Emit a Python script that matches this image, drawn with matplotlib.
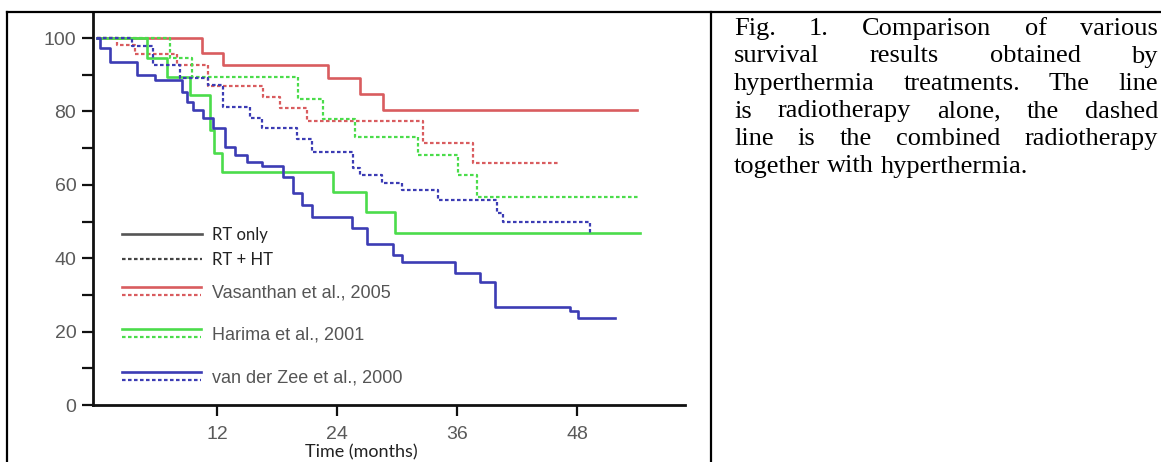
import matplotlib
matplotlib.use("Agg")
import matplotlib.pyplot as plt
from matplotlib.lines import Line2D
from matplotlib.legend_handler import HandlerBase

# ---------------- data ----------------
months_ticks = [12, 24, 36, 48]
survival_ticks = [0, 20, 40, 60, 80, 100]
survival_minor = [10, 30, 50, 70, 90]

vas_rt_t = [0, 10.5, 12.6, 23.1, 26.3, 28.6]
vas_rt_s = [100, 95.9, 92.6, 89.0, 84.7, 80.4]
vas_rt_end = 54.0

vas_ht_t = [0, 2.0, 3.8, 8.0, 11.1, 16.6, 18.3, 21.0, 32.6, 37.6]
vas_ht_s = [100, 98.2, 95.6, 92.6, 87.0, 84.0, 81.0, 77.4, 71.4, 66.0]
vas_ht_end = 46.2

har_rt_t = [0, 5.0, 7.0, 9.3, 11.3, 11.7, 12.5, 23.6, 26.9, 29.8]
har_rt_s = [100, 94.5, 89.4, 84.5, 75.0, 68.7, 63.5, 58.0, 52.6, 47.0]
har_rt_end = 54.3

har_ht_t = [0, 7.3, 9.5, 20.1, 22.6, 25.8, 32.1, 36.1, 38.0]
har_ht_s = [100, 94.5, 89.4, 83.4, 78.0, 73.0, 68.0, 62.7, 56.7]
har_ht_end = 54.1

zee_rt_t = [0, 0.3, 1.3, 4.0, 5.8, 8.5, 9.0, 9.6, 10.6, 11.6, 12.8, 13.8, 15.0, 16.5,
            18.6, 19.6, 20.5, 21.5, 25.5, 27.0, 29.6, 30.5, 35.8, 38.3, 39.8, 47.3, 48.1]
zee_rt_s = [100, 97.3, 93.5, 90.0, 88.5, 85.3, 82.6, 80.5, 78.2, 75.5, 70.3, 68.0, 66.2, 65.0,
            62.0, 57.7, 54.5, 51.2, 48.2, 43.9, 40.9, 39.0, 36.0, 33.5, 26.7, 25.6, 23.7]
zee_rt_end = 51.8

zee_ht_t = [0, 3.5, 5.6, 8.3, 11.1, 12.6, 15.3, 16.5, 20.0, 21.5, 25.6, 26.3, 28.5, 30.5,
            34.1, 40.0, 40.6, 49.3]
zee_ht_s = [100, 97.8, 92.6, 89.0, 87.2, 81.2, 78.2, 75.5, 72.5, 69.0, 64.5, 62.7, 60.5, 58.6,
            55.9, 52.3, 49.9, 47.0]
zee_ht_end = 49.5

study_labels = ["Vasanthan et al., 2005", "Harima et al., 2001", "van der Zee et al., 2000"]
type_labels = ["RT only", "RT + HT"]
x_label = "Time (months)"

caption_lines = [
    "Fig. 1. Comparison of various",
    "survival results obtained by",
    "hyperthermia treatments. The line",
    "is radiotherapy alone, the dashed",
    "line is the combined radiotherapy",
    "together with hyperthermia.",
]

# ---------------- styling ----------------
RED = "#d95c5f"
GREEN = "#4bdc4b"
BLUE = "#3c3cb4"
DASH = (1.6, 1.1)

plt.rcParams["font.family"] = ["Liberation Sans", "DejaVu Sans"]

W, H = 1161, 462
fig = plt.figure(figsize=(W / 100, H / 100), dpi=100)
fig.patch.set_facecolor("white")

ax = fig.add_axes([93 / W, 1 - 405 / H, 592 / W, 393 / H])
ax.set_xlim(-0.4, 58.8)
ax.set_ylim(0, 107.1)


def km(t, s, end, color, dashed):
    xs = list(t) + [end]
    ys = list(s) + [s[-1]]
    if dashed:
        ln, = ax.step(xs, ys, where="post", color=color, lw=1.6, dashes=DASH)
    else:
        ln, = ax.step(xs, ys, where="post", color=color, lw=1.9)
    return ln


l_vr = km(vas_rt_t, vas_rt_s, vas_rt_end, RED, False)
l_vh = km(vas_ht_t, vas_ht_s, vas_ht_end, RED, True)
l_hr = km(har_rt_t, har_rt_s, har_rt_end, GREEN, False)
l_hh = km(har_ht_t, har_ht_s, har_ht_end, GREEN, True)
l_zr = km(zee_rt_t, zee_rt_s, zee_rt_end, BLUE, False)
l_zh = km(zee_ht_t, zee_ht_s, zee_ht_end, BLUE, True)

for sp in ["top", "right"]:
    ax.spines[sp].set_visible(False)
for sp in ["left", "bottom"]:
    ax.spines[sp].set_linewidth(2.0)
    ax.spines[sp].set_color("#111111")

ax.set_xticks(months_ticks)
ax.set_yticks(survival_ticks)
ax.set_yticks(survival_minor, minor=True)
ax.tick_params(axis="both", which="both", length=8, width=1.6, color="#111111",
               labelsize=14, labelcolor="#5a5a5a")
ax.tick_params(axis="y", which="both", pad=4)
ax.tick_params(axis="x", which="both", pad=7)

ax.set_xlabel(x_label, fontsize=13, family=["Lato", "DejaVu Sans"], color="#222222", va="center")
ax.xaxis.set_label_coords((361 - 93) / 592, (405 - 452) / 393)


# ---------------- legends ----------------
class PairHandler(HandlerBase):
    def __init__(self, gap):
        super().__init__()
        self.gap = gap

    def create_artists(self, legend, orig_handle, xdescent, ydescent, width, height,
                       fontsize, trans):
        y0 = -ydescent + height / 2
        arts = []
        for h, dy in zip(orig_handle, (self.gap, -self.gap)):
            ln = Line2D([-xdescent, -xdescent + width], [y0 + dy, y0 + dy])
            ln.update_from(h)
            ln.set_transform(trans)
            arts.append(ln)
        return arts


h_rt = Line2D([], [], color="#555555", lw=1.9)
h_ht = Line2D([], [], color="#444444", lw=1.6, dashes=DASH)
leg1 = ax.legend([h_rt, h_ht], type_labels, loc="upper left",
                 bbox_to_anchor=(122 / W, 1 - 227 / H), bbox_transform=fig.transFigure,
                 frameon=False, borderpad=0, borderaxespad=0, handlelength=4.8,
                 handletextpad=0.62, labelspacing=0.53,
                 prop={"family": ["Lato", "DejaVu Sans"], "size": 12})
for t in leg1.get_texts():
    t.set_color("#222222")
ax.add_artist(leg1)

leg2 = ax.legend([(l_vr, l_vh), (l_hr, l_hh), (l_zr, l_zh)], study_labels, loc="upper left",
                 bbox_to_anchor=(122 / W, 1 - 284 / H), bbox_transform=fig.transFigure,
                 frameon=False, borderpad=0, borderaxespad=0, handlelength=4.4,
                 handletextpad=0.6, labelspacing=1.42,
                 handler_map={tuple: PairHandler(2.9)},
                 prop={"family": ["Liberation Sans", "DejaVu Sans"], "size": 13})
for t in leg2.get_texts():
    t.set_color("#555555")

# ---------------- frame lines ----------------
for xs, ys in [([7 / W, 7 / W], [0, 1 - 12 / H]),
               ([711 / W, 711 / W], [0, 1 - 12 / H]),
               ([7 / W, 1], [1 - 12 / H, 1 - 12 / H])]:
    fig.add_artist(Line2D(xs, ys, transform=fig.transFigure, color="black", lw=1.6))

# ---------------- justified caption ----------------
renderer = fig.canvas.get_renderer()
x_left, x_right = 734, 1158
space = 6.6
for i, line in enumerate(caption_lines):
    words = line.split()
    base = 35 + 27.5 * i
    texts = [fig.text(0, 1 - base / H, w, fontsize=19,
                      family=["Liberation Serif", "DejaVu Serif"], color="black",
                      va="baseline", ha="left") for w in words]
    widths = [t.get_window_extent(renderer).width for t in texts]
    if i < len(caption_lines) - 1 and len(words) > 1:
        gap = (x_right - x_left - sum(widths)) / (len(words) - 1)
    else:
        gap = space
    x = x_left
    for t, w in zip(texts, widths):
        t.set_x(x / W)
        x += w + gap

fig.savefig("out.png", dpi=100, facecolor="white")
